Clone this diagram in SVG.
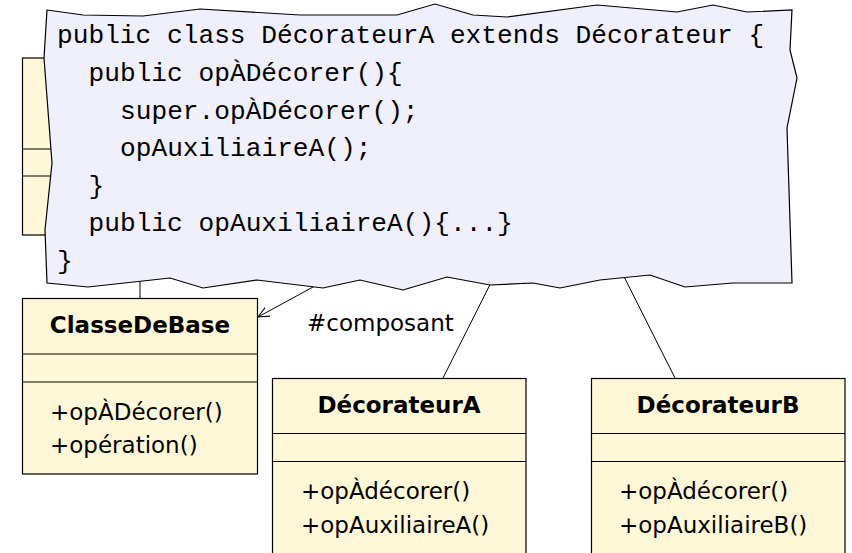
<svg xmlns="http://www.w3.org/2000/svg" width="852" height="553" viewBox="0 0 852 553">
<defs>
<style>
.cls{fill:#fff8d8;stroke:#000;stroke-width:1.2}
.div{stroke:#000;stroke-width:1.2}
.conn{stroke:#000;stroke-width:1;fill:none}
.title{font-family:"DejaVu Sans",sans-serif;font-weight:bold;font-size:23px;text-anchor:middle}
.meth{font-family:"DejaVu Sans",sans-serif;font-size:23px}
.code{font-family:"Liberation Mono",monospace;font-size:26.2px}
.note{fill:#f0f0fc;stroke:#000;stroke-width:1.2}
</style>
<marker id="open" viewBox="0 0 12 12" refX="11" refY="6" markerWidth="12" markerHeight="12" markerUnits="userSpaceOnUse" orient="auto">
<path d="M0,1 L11,6 L0,11" fill="none" stroke="#000" stroke-width="1"/>
</marker>
</defs>
<g id="Hidden">
<rect class="cls" x="22.5" y="58" width="200" height="177"/>
<line class="div" x1="22.5" y1="149" x2="222.5" y2="149"/>
<line class="div" x1="22.5" y1="176" x2="222.5" y2="176"/>
</g>
<g id="connectors">
<line class="conn" x1="140" y1="235" x2="140" y2="298"/>
<line class="conn" x1="368" y1="257" x2="258" y2="317" marker-end="url(#open)"/>
<line class="conn" x1="520" y1="225" x2="443" y2="378"/>
<line class="conn" x1="598" y1="225" x2="675" y2="378"/>
<text class="meth" x="307" y="331">#composant</text>
</g>
<g id="Note">
<polygon class="note" points="47,10 83,15 143,16 200,9 300,15 397,15 435,4 473,15 507,17 597,5 677,12 713,5 747,12 792,10 790,50 797,78 787,128 792,283 733,283 685,287 650,275 600,280 560,288 533,283 490,285 447,277 403,290 360,280 323,288 257,280 203,288 170,278 88,287 47,283 45,230 52,163 44,58"/>
<text class="code" x="57" y="43">public class DécorateurA extends Décorateur {</text>
<text class="code" x="88.5" y="81">public opÀDécorer(){</text>
<text class="code" x="120" y="118.5">super.opÀDécorer();</text>
<text class="code" x="120" y="156">opAuxiliaireA();</text>
<text class="code" x="88.5" y="193.5">}</text>
<text class="code" x="88.5" y="231">public opAuxiliaireA(){...}</text>
<text class="code" x="57" y="268.5">}</text>
</g>
<g id="ClasseDeBase">
<rect class="cls" x="22.5" y="298.5" width="235" height="175.5"/>
<line class="div" x1="22.5" y1="354" x2="257.5" y2="354"/>
<line class="div" x1="22.5" y1="382" x2="257.5" y2="382"/>
<text class="title" x="140" y="333">ClasseDeBase</text>
<text class="meth" x="50" y="420">+opÀDécorer()</text>
<text class="meth" x="50" y="453">+opération()</text>
</g>
<g id="DecorateurA">
<rect class="cls" x="272.5" y="378.5" width="253.5" height="185"/>
<line class="div" x1="272.5" y1="433.5" x2="526" y2="433.5"/>
<line class="div" x1="272.5" y1="461.5" x2="526" y2="461.5"/>
<text class="title" x="399" y="413">DécorateurA</text>
<text class="meth" x="301" y="499">+opÀdécorer()</text>
<text class="meth" x="301" y="533">+opAuxiliaireA()</text>
</g>
<g id="DecorateurB">
<rect class="cls" x="591.5" y="378.5" width="253.5" height="185"/>
<line class="div" x1="591.5" y1="433.5" x2="845" y2="433.5"/>
<line class="div" x1="591.5" y1="461.5" x2="845" y2="461.5"/>
<text class="title" x="718" y="413">DécorateurB</text>
<text class="meth" x="619" y="499">+opÀdécorer()</text>
<text class="meth" x="619" y="533">+opAuxiliaireB()</text>
</g>
</svg>
